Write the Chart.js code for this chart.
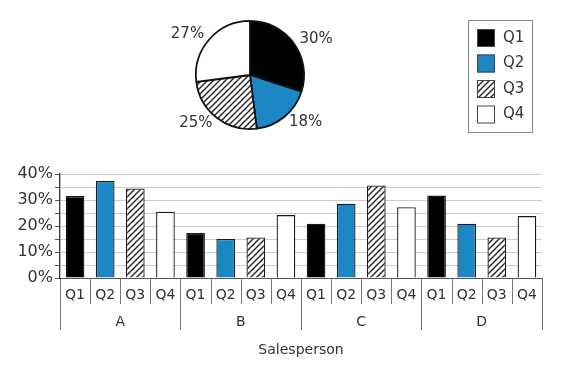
<!DOCTYPE html>
<html>
<head>
<meta charset="utf-8">
<script src="https://cdn.jsdelivr.net/npm/chart.js@4.4.0/dist/chart.umd.min.js"></script>
<style>
  html, body { margin: 0; padding: 0; background: #fff; }
  #wrap { position: relative; width: 583px; height: 381px; }
  #graphBarras { position: absolute; left: 0; top: 0; }
  #graphPizza { position: absolute; left: 0; top: 0; }
</style>
</head>
<body>
<div id="wrap">
  <canvas id="graphBarras" width="583" height="381"></canvas>
  <canvas id="graphPizza" width="583" height="150"></canvas>
</div>
<script>
/* Dados */
var vendedores = ['A', 'B', 'C', 'D'];
var trimestres = ['Q1', 'Q2', 'Q3', 'Q4'];
var vendasQ1 = [31.5, 17.3, 20.9, 31.7];
var vendasQ2 = [37.3, 15.0, 28.6, 20.9];
var vendasQ3 = [34.4, 15.6, 35.6, 15.6];
var vendasQ4 = [25.5, 24.2, 27.2, 23.8];
var pizzaValores = [30, 18, 25, 27];
var pizzaRotulos = ['30%', '18%', '25%', '27%'];
var yTicks = ['0%', '10%', '20%', '30%', '40%'];

var fonte = '"DejaVu Sans", Verdana, sans-serif';
var corTexto = '#333';

/* Hachura diagonal */
function hachura() {
  var c = document.createElement('canvas');
  c.width = 6; c.height = 6;
  var g = c.getContext('2d');
  g.fillStyle = '#fff';
  g.fillRect(0, 0, 6, 6);
  g.strokeStyle = '#2a2a2a';
  g.lineWidth = 1.5;
  g.beginPath();
  g.moveTo(-1, 7); g.lineTo(7, -1);
  g.moveTo(-1, 1); g.lineTo(1, -1);
  g.moveTo(5, 7); g.lineTo(7, 5);
  g.stroke();
  return document.getElementById('graphBarras').getContext('2d').createPattern(c, 'repeat');
}

var cores = ['#000000', '#1b87c5', hachura(), '#ffffff'];
var series = [vendasQ1, vendasQ2, vendasQ3, vendasQ4];

/* Rótulos Q1..Q4 e divisórias sob as barras */
var rotulosBarras = {
  id: 'rotulosBarras',
  afterDraw(chart) {
    var ctx = chart.ctx;
    var area = chart.chartArea;
    ctx.save();
    ctx.font = '14px ' + fonte;
    ctx.fillStyle = corTexto;
    ctx.textAlign = 'center';
    ctx.textBaseline = 'middle';
    var xs = [];
    chart.data.datasets.forEach(function (ds, d) {
      chart.getDatasetMeta(d).data.forEach(function (bar, i) {
        ctx.fillText(trimestres[d], bar.x, area.bottom + 17);
        xs.push({ x: bar.x, d: d });
      });
    });
    xs.sort(function (a, b) { return a.x - b.x; });
    ctx.strokeStyle = '#777';
    ctx.lineWidth = 1;
    ctx.beginPath();
    for (var i = 0; i < xs.length - 1; i++) {
      if (xs[i].d === 3) continue;
      var mx = Math.round((xs[i].x + xs[i + 1].x) / 2) + 0.5;
      ctx.moveTo(mx, area.bottom);
      ctx.lineTo(mx, area.bottom + 26);
    }
    ctx.stroke();
    ctx.restore();
  }
};

/* Gráfico de Barras */
var graphBarras = document.getElementById('graphBarras').getContext('2d');
var barChart = new Chart(graphBarras, {
  type: 'bar',
  data: {
    labels: vendedores,
    datasets: series.map(function (s, i) {
      return {
        label: trimestres[i],
        data: s,
        backgroundColor: cores[i],
        borderColor: '#1a1a1a',
        borderWidth: 1.3,
        barPercentage: 0.62,
        categoryPercentage: 1
      };
    })
  },
  options: {
    responsive: false,
    animation: false,
    layout: { padding: { left: 0, right: 41, top: 174, bottom: 0 } },
    plugins: { legend: { display: false }, tooltip: { enabled: false } },
    scales: {
      x: {
        afterFit(scale) { scale.height = 381 - 278; },
        grid: {
          offset: true,
          drawOnChartArea: false,
          tickLength: 52,
          color: '#777',
          lineWidth: 1
        },
        border: { display: true, color: '#555', width: 1 },
        ticks: {
          padding: -16,
          font: { family: fonte, size: 14 },
          color: corTexto
        },
        title: {
          display: true,
          text: 'Salesperson',
          font: { family: fonte, size: 14 },
          color: corTexto,
          padding: { top: 0, bottom: 22 }
        }
      },
      y: {
        min: 0,
        max: 40,
        afterFit(scale) { scale.width = 60; },
        ticks: {
          stepSize: 5,
          autoSkip: false,
          padding: 2,
          font: { family: fonte, size: 16 },
          color: corTexto,
          callback: function (v) { return v % 10 === 0 ? yTicks[v / 10] : ''; }
        },
        grid: {
          color: '#cccccc',
          tickColor: '#555',
          tickLength: 5,
          lineWidth: 1
        },
        border: { display: true, color: '#333', width: 1.3 }
      }
    }
  },
  plugins: [rotulosBarras]
});

/* Rótulos da pizza e legenda */
var rotulosPizza = {
  id: 'rotulosPizza',
  afterDraw(chart) {
    var ctx = chart.ctx;
    ctx.save();
    ctx.font = '15px ' + fonte;
    ctx.fillStyle = corTexto;
    ctx.textBaseline = 'middle';
    ctx.textAlign = 'center';
    chart.getDatasetMeta(0).data.forEach(function (arc, i) {
      var a = (arc.startAngle + arc.endAngle) / 2;
      var dx = Math.cos(a), dy = Math.sin(a);
      var r = arc.outerRadius + 7;
      var w = ctx.measureText(pizzaRotulos[i]).width;
      var x = arc.x + dx * r + (dx >= 0 ? 1 : -1) * w / 2;
      var y = arc.y + dy * r;
      ctx.fillText(pizzaRotulos[i], x, y);
    });

    /* legenda com borda */
    var lx = 468, ly = 20, lw = 64, lh = 112;
    ctx.strokeStyle = '#888';
    ctx.lineWidth = 1;
    ctx.strokeRect(lx + 0.5, ly + 0.5, lw, lh);
    ctx.textAlign = 'left';
    trimestres.forEach(function (q, i) {
      var cy = ly + 18 + i * 25.5;
      ctx.fillStyle = cores[i];
      ctx.fillRect(lx + 9, cy - 9, 18, 18);
      ctx.strokeStyle = '#444';
      ctx.lineWidth = 1;
      ctx.strokeRect(lx + 9.5, cy - 8.5, 17, 17);
      ctx.fillStyle = corTexto;
      ctx.fillText(q, lx + 35, cy);
    });
    ctx.restore();
  }
};

/* Gráfico de Pizza */
var graphPizza = document.getElementById('graphPizza').getContext('2d');
var pieChart = new Chart(graphPizza, {
  type: 'pie',
  data: {
    labels: trimestres,
    datasets: [{
      data: pizzaValores,
      backgroundColor: cores,
      borderColor: '#111',
      borderWidth: 1.8
    }]
  },
  options: {
    responsive: false,
    animation: false,
    layout: { padding: { left: 195, right: 278, top: 20, bottom: 20 } },
    plugins: { legend: { display: false }, tooltip: { enabled: false } }
  },
  plugins: [rotulosPizza]
});
</script>
</body>
</html>
